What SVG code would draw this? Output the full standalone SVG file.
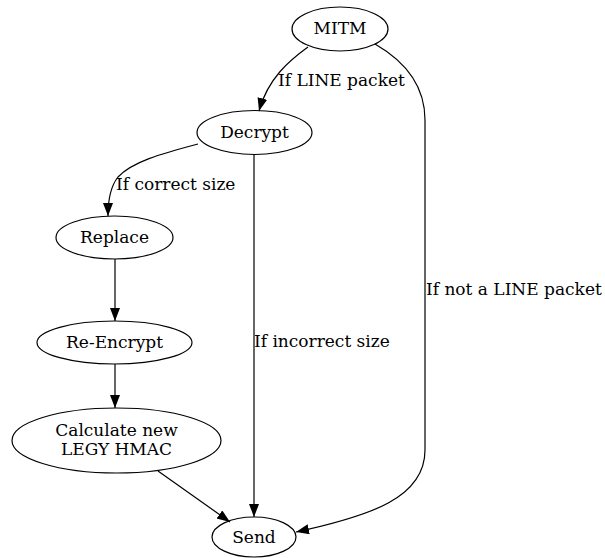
<svg xmlns="http://www.w3.org/2000/svg" width="605" height="558" viewBox="0 0 605 558">
<style>
.n ellipse{fill:none;stroke:#000;stroke-width:1.2}
text{font-family:"DejaVu Serif",serif;font-size:17px;fill:#000}
.n text{text-anchor:middle}
.e path{fill:none;stroke:#000;stroke-width:1.2}
</style>
<defs>
<marker id="ah" markerUnits="userSpaceOnUse" markerWidth="14" markerHeight="11" refX="13" refY="5" orient="auto" viewBox="0 0 14 11">
<path d="M0,0 L13,5 L0,10 z" fill="#000"/>
</marker>
</defs>
<rect width="605" height="558" fill="#fff"/>
<g id="edges" class="e">
<path d="M308,47 C290,60 268,78 259,111" marker-end="url(#ah)"/>
<path d="M375,44 C408,63 425,88 425,120 L425,450 C425,498 370,516 296,532" marker-end="url(#ah)"/>
<path d="M198,144 C160,154 132,162 118,177 C110,187 108,200 108,216" marker-end="url(#ah)"/>
<path d="M254,155 L254,517" marker-end="url(#ah)"/>
<path d="M115,259 L115,321" marker-end="url(#ah)"/>
<path d="M115,364 L115,408" marker-end="url(#ah)"/>
<path d="M158,471 L230,522" marker-end="url(#ah)"/>
</g>
<g id="edge-labels">
<text x="278" y="86">If LINE packet</text>
<text x="426" y="295">If not a LINE packet</text>
<text x="116" y="190">If correct size</text>
<text x="254" y="347">If incorrect size</text>
</g>
<g id="MITM" class="n"><ellipse cx="340" cy="29" rx="48" ry="22"/><text x="340" y="34">MITM</text></g>
<g id="Decrypt" class="n"><ellipse cx="254.5" cy="132.5" rx="57.5" ry="22"/><text x="254.5" y="138">Decrypt</text></g>
<g id="Replace" class="n"><ellipse cx="114.5" cy="237.5" rx="58.5" ry="21.5"/><text x="114.5" y="243">Replace</text></g>
<g id="ReEncrypt" class="n"><ellipse cx="114.5" cy="342.5" rx="77.5" ry="21.5"/><text x="114.5" y="348">Re-Encrypt</text></g>
<g id="Calculate" class="n"><ellipse cx="116.5" cy="440.5" rx="104.5" ry="32.5"/><text x="116.5" y="436">Calculate new</text><text x="116.5" y="455">LEGY HMAC</text></g>
<g id="Send" class="n"><ellipse cx="254" cy="537" rx="42" ry="20"/><text x="254" y="543">Send</text></g>
</svg>
